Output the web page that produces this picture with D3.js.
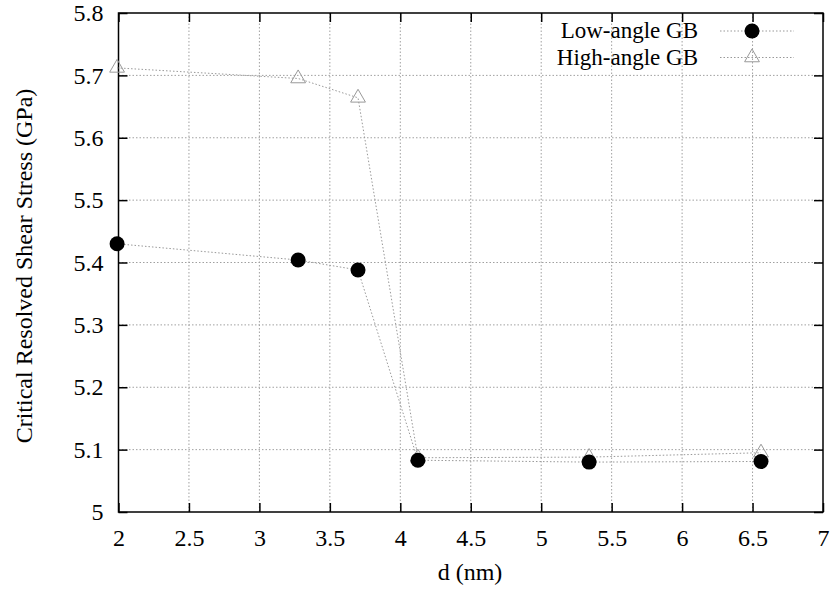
<!DOCTYPE html>
<html>
<head>
<meta charset="utf-8">
<script src="https://cdn.jsdelivr.net/npm/d3@7"></script>
<style>
  body { margin: 0; background: #fff; }
  text { font-family: "Liberation Serif", "Times New Roman", serif; fill: #000; }
</style>
</head>
<body>
<div id="chart"></div>
<script>
// Data
const lowD = [1.99, 3.275, 3.70, 4.125, 5.34, 6.56];
const lowCRSS = [5.430, 5.404, 5.388, 5.083, 5.080, 5.081];
const highD = [1.99, 3.275, 3.70, 4.125, 5.34, 6.56];
const highCRSS = [5.712, 5.695, 5.664, 5.087, 5.088, 5.095];
const xTicks = [2, 2.5, 3, 3.5, 4, 4.5, 5, 5.5, 6, 6.5, 7];
const yTicks = [5, 5.1, 5.2, 5.3, 5.4, 5.5, 5.6, 5.7, 5.8];
const seriesNames = ["Low-angle GB", "High-angle GB"];

var W = 831, H = 589;
var margin = { top: 13, right: 8, bottom: 77, left: 118.5 },
  width = W - margin.left - margin.right,
  height = H - margin.top - margin.bottom;

var fontSize = "24px";

var svg = d3.select("#chart").append("svg")
  .attr("width", W).attr("height", H);
var g = svg.append("g")
  .attr("transform", "translate(" + margin.left + "," + margin.top + ")");

var x = d3.scaleLinear().domain([2, 7]).range([0, width]);
var y = d3.scaleLinear().domain([5, 5.8]).range([height, 0]);

var gridColor = "#a0a0a0";

// Grid
g.append("g").selectAll("line").data(xTicks.slice(1, -1)).enter().append("line")
  .attr("x1", d => x(d)).attr("x2", d => x(d))
  .attr("y1", 0).attr("y2", height)
  .attr("stroke", gridColor).attr("stroke-width", 1).attr("stroke-dasharray", "1.5,2");
g.append("g").selectAll("line").data(yTicks.slice(1, -1)).enter().append("line")
  .attr("y1", d => y(d)).attr("y2", d => y(d))
  .attr("x1", 0).attr("x2", width)
  .attr("stroke", gridColor).attr("stroke-width", 1).attr("stroke-dasharray", "1.5,2");

// Axes (inward ticks, mirrored)
var tickLen = 9;
function styleAxis(sel) {
  sel.select(".domain").remove();
  sel.selectAll(".tick line").attr("stroke", "#000").attr("stroke-width", 1.5);
  sel.selectAll("text").style("font-size", fontSize).style("font-family", "Liberation Serif");
}
g.append("g").attr("transform", "translate(0," + height + ")")
  .call(d3.axisBottom(x).tickValues(xTicks).tickSize(-tickLen).tickPadding(17).tickFormat(d3.format("")))
  .call(styleAxis);
g.append("g")
  .call(d3.axisTop(x).tickValues(xTicks).tickSize(-tickLen).tickFormat(""))
  .call(styleAxis);
g.append("g")
  .call(d3.axisLeft(y).tickValues(yTicks).tickSize(-tickLen).tickPadding(15).tickFormat(d3.format("")))
  .call(styleAxis);
g.append("g").attr("transform", "translate(" + width + ",0)")
  .call(d3.axisRight(y).tickValues(yTicks).tickSize(-tickLen).tickFormat(""))
  .call(styleAxis);

// Frame
g.append("rect").attr("width", width).attr("height", height)
  .attr("fill", "none").attr("stroke", "#000").attr("stroke-width", 1.5);

// Axis labels
svg.append("text")
  .attr("x", 470).attr("y", 580)
  .attr("text-anchor", "middle").style("font-size", fontSize)
  .text("d (nm)");
svg.append("text")
  .attr("transform", "translate(32,266) rotate(-90)")
  .attr("text-anchor", "middle").style("font-size", fontSize)
  .text("Critical Resolved Shear Stress (GPa)");

var lineStyle = { stroke: "#999", width: 1, dash: "1.5,2" };
var line = d3.line().x(d => x(d[0])).y(d => y(d[1]));
var lowPts = lowD.map((d, i) => [d, lowCRSS[i]]);
var highPts = highD.map((d, i) => [d, highCRSS[i]]);

// High-angle series
g.append("path").datum(highPts).attr("d", line)
  .attr("fill", "none").attr("stroke", lineStyle.stroke)
  .attr("stroke-width", lineStyle.width).attr("stroke-dasharray", lineStyle.dash);
var tri = d3.symbol().type(d3.symbolTriangle).size(95);
g.selectAll(".tri").data(highPts).enter().append("path")
  .attr("class", "tri")
  .attr("d", tri)
  .attr("transform", d => "translate(" + x(d[0]) + "," + y(d[1]) + ")")
  .attr("fill", "none").attr("stroke", "#999").attr("stroke-width", 1);

// Low-angle series
g.append("path").datum(lowPts).attr("d", line)
  .attr("fill", "none").attr("stroke", lineStyle.stroke)
  .attr("stroke-width", lineStyle.width).attr("stroke-dasharray", lineStyle.dash);
g.selectAll(".dot").data(lowPts).enter().append("circle")
  .attr("class", "dot")
  .attr("cx", d => x(d[0])).attr("cy", d => y(d[1]))
  .attr("r", 7.5).attr("fill", "#000");

// Legend (slightly smaller text so the two rows do not collide)
var leg = svg.append("g");
seriesNames.forEach(function (name, i) {
  var ly = 31 + i * 26.5;
  leg.append("text").attr("x", 698).attr("y", ly + 7)
    .attr("text-anchor", "end").style("font-size", "23px").text(name);
  leg.append("line").attr("x1", 720).attr("x2", 794).attr("y1", ly).attr("y2", ly)
    .attr("stroke", lineStyle.stroke).attr("stroke-width", 1).attr("stroke-dasharray", lineStyle.dash);
  if (i === 0) {
    leg.append("circle").attr("cx", 752).attr("cy", ly).attr("r", 7.5).attr("fill", "#000");
  } else {
    leg.append("path").attr("d", tri)
      .attr("transform", "translate(752," + ly + ")")
      .attr("fill", "none").attr("stroke", "#999").attr("stroke-width", 1);
  }
});
</script>
</body>
</html>
